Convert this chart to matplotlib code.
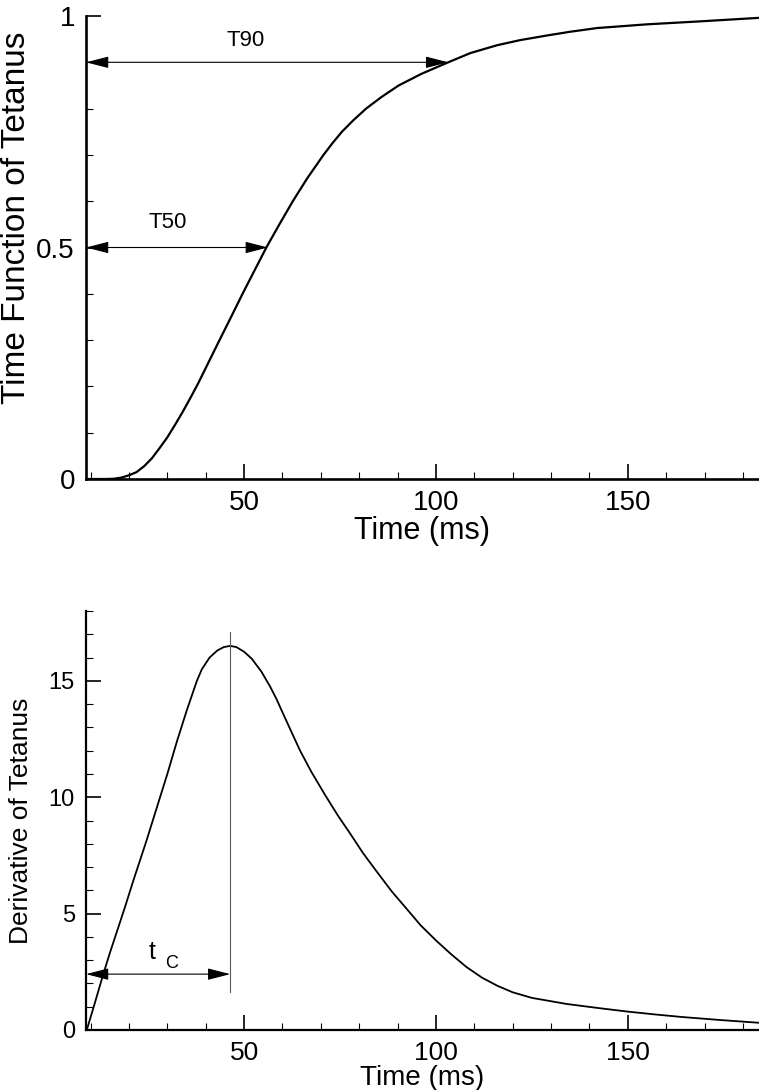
import numpy as np
import matplotlib
matplotlib.use("Agg")
from matplotlib import pyplot as plt
from matplotlib.ticker import MultipleLocator

plt.rcParams["font.family"] = ["Liberation Sans", "DejaVu Sans"]

# time function of tetanus (top panel)
time_top = [9.0, 14, 16, 18, 20, 22, 24, 26, 28, 30, 32, 34, 36, 38, 40.5,
            43.3, 46.5, 49.6, 52.7, 55.8, 59.2, 62.7, 66.5, 70.7, 73, 75.5,
            78.5, 81.8, 85.8, 90.3, 96.2, 103.2, 109, 116, 122, 129, 135, 142,
            155, 168, 184.2]
tetanus = [0, 0, 0.0005, 0.003, 0.008, 0.015, 0.028, 0.045, 0.067, 0.09,
           0.117, 0.145, 0.175, 0.206, 0.248, 0.295, 0.348, 0.4, 0.45, 0.5,
           0.55, 0.6, 0.65, 0.7, 0.725, 0.75, 0.775, 0.8, 0.825, 0.85, 0.875,
           0.9, 0.92, 0.937, 0.948, 0.958, 0.966, 0.974, 0.982, 0.988, 0.996]

# derivative (bottom panel)
time_bot = [9.0, 11, 13.3, 15, 17, 19, 21.1, 24.5, 28.1, 30, 32.5, 35, 37.7,
            39, 41, 43, 44.7, 46.4, 48, 50, 52, 54.5, 56.8, 58.5, 60, 62.5,
            64.6, 67.5, 71.1, 74.5, 77.6, 81, 84.6, 88.5, 92.4, 96, 100, 104,
            108, 112, 116, 120, 125, 134, 142, 150, 157, 164, 174, 184.2]
deriv = [0, 1.1, 2.4, 3.3, 4.3, 5.3, 6.4, 8.1, 10, 11, 12.4, 13.7, 15, 15.5,
         16.0, 16.3, 16.45, 16.5, 16.45, 16.25, 15.95, 15.4, 14.75, 14.2, 13.65,
         12.75, 12.0, 11.1, 10.1, 9.2, 8.45, 7.6, 6.8, 5.95, 5.2, 4.5, 3.85,
         3.25, 2.7, 2.25, 1.9, 1.62, 1.38, 1.12, 0.95, 0.79, 0.67, 0.56, 0.43,
         0.31]

T50 = 56.2
T90 = 103.2
t_c = 46.4
x_lo, x_hi = 8.8, 184.2

fig = plt.figure(figsize=(7.59, 10.90), dpi=100)
ax1 = fig.add_axes([86 / 759, 1 - 479 / 1090, 1 - 86 / 759, 463 / 1090])
ax2 = fig.add_axes([86 / 759, 1 - 1030 / 1090, 1 - 86 / 759, 419 / 1090])


def style_axis(ax, lw, size):
    for s in ["top", "right"]:
        ax.spines[s].set_visible(False)
    for s in ["left", "bottom"]:
        ax.spines[s].set_linewidth(lw)
    ax.xaxis.set_major_locator(MultipleLocator(50))
    ax.xaxis.set_minor_locator(MultipleLocator(10))
    ax.tick_params(which="major", direction="in", length=11, width=1.2,
                   labelsize=size, pad=8)
    ax.tick_params(which="minor", direction="in", length=5, width=0.8)
    ax.set_xlim(x_lo, x_hi)


# top panel
ax1.plot(time_top, tetanus, color="k", lw=1.6)
style_axis(ax1, 1.9, 20)
ax1.set_ylim(0, 1)
ax1.yaxis.set_minor_locator(MultipleLocator(0.1))
ax1.set_yticks([0, 0.5, 1])
ax1.set_yticklabels(["0", "0.5", "1"])
ax1.set_xlabel("Time (ms)", fontsize=22, labelpad=0)
ax1.set_ylabel("Time Function of Tetanus", fontsize=24)
ax1.yaxis.set_label_coords((32 - 86) / 673, 0.565)

arrow = dict(arrowstyle="<|-|>,head_length=0.7,head_width=0.18", lw=0.8,
             color="k", shrinkA=0, shrinkB=0, mutation_scale=20)
ax1.annotate("", xy=(T90, 0.9), xytext=(x_lo, 0.9), arrowprops=arrow,
             annotation_clip=False)
ax1.annotate("", xy=(T50, 0.5), xytext=(x_lo, 0.5), arrowprops=arrow,
             annotation_clip=False)
ax1.text(50.3, 0.948, "T90", fontsize=16, ha="center", va="center")
ax1.text(30.2, 0.555, "T50", fontsize=16, ha="center", va="center")

# bottom panel
ax2.plot(time_bot, deriv, color="k", lw=1.3)
style_axis(ax2, 1.6, 19)
ax2.set_ylim(0, 18)
ax2.yaxis.set_major_locator(MultipleLocator(5))
ax2.yaxis.set_minor_locator(MultipleLocator(1))
ax2.tick_params(axis="y", which="major", labelsize=17)
ax2.set_xlabel("Time (ms)", fontsize=20, labelpad=0)
ax2.set_ylabel("Derivative of Tetanus", fontsize=19)
ax2.yaxis.set_label_coords((33 - 86) / 673, 0.5)

ax2.plot([t_c, t_c], [1.65, 17.1], color="0.35", lw=0.8)
ax2.annotate("", xy=(t_c, 2.4), xytext=(x_lo, 2.4), arrowprops=arrow,
             annotation_clip=False)
ax2.text(26.0, 3.36, "t", fontsize=18, ha="center", va="center")
ax2.text(31.2, 2.84, "C", fontsize=13, ha="center", va="center")

fig.savefig("out.png", dpi=100)
